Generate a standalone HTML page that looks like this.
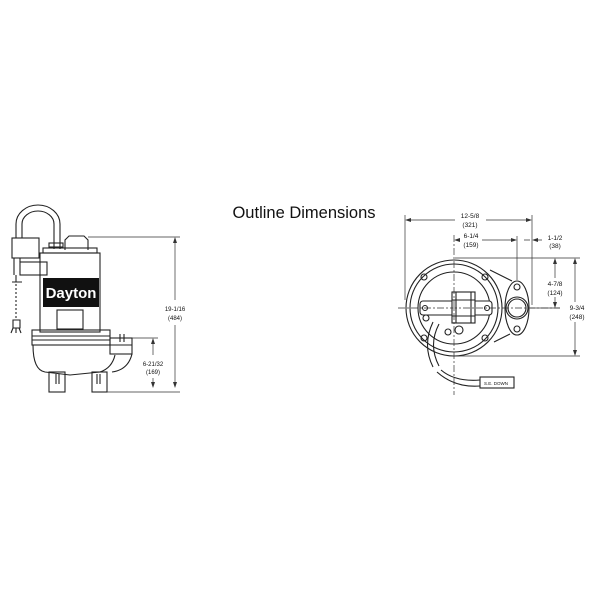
<!DOCTYPE html>
<html><head><meta charset="utf-8"><style>
html,body{margin:0;padding:0;background:#fff;}
svg{display:block;}
text{font-family:"Liberation Sans",Arial,sans-serif;fill:#111;}
</style></head><body>
<svg width="600" height="600" viewBox="0 0 600 600" xmlns="http://www.w3.org/2000/svg">
<rect width="600" height="600" fill="#fff"/>
<text x="304" y="218" font-size="16.5" text-anchor="middle">Outline Dimensions</text>

<!-- LEFT: side view -->
<g fill="none" stroke="#222" stroke-width="1.1">
  <path d="M16 238 V224 A22 19 0 0 1 60 224 V249"/>
  <path d="M22 238 V224 A16 13 0 0 1 54 224 V249"/>
  <rect x="12" y="238" width="27" height="20" fill="#fff"/>
  <rect x="20" y="262" width="27" height="13" fill="#fff"/>
  <path d="M14 258 V275 M20 258 V262"/>
  <path d="M16 275 V282 M12 282 h10"/>
  <path d="M16 284 V320" stroke-dasharray="2,2"/>
  <path d="M13 320 h7 v8 h-7z M13 328 l-2 5 M16 328 v5 M19 328 l2 5"/>
  <path d="M65 250 V240 l4 -4 h15 l4 4 V250"/>
  <rect x="49" y="243" width="14" height="4"/>
  <rect x="43" y="248" width="54" height="5"/>
  <rect x="40" y="253" width="60" height="79"/>
  <rect x="57" y="310" width="26" height="19"/>
  <rect x="32" y="330" width="78" height="15"/>
  <path d="M32 336 h78 M32 340 h78"/>
  <path d="M33 345 Q33 370 45 372 L70 375 L100 372 Q112 368 115 355"/>
  <rect x="110" y="338" width="22" height="16"/>
  <path d="M110 345 h22 M120 334 v8 M124 334 v8"/>
  <path d="M132 354 Q128 370 112 372"/>
  <rect x="49" y="372" width="16" height="20"/>
  <rect x="92" y="372" width="15" height="20"/>
  <path d="M56 374 v10 M59 374 v10 M97 374 v10 M100 374 v10"/>
</g>
<rect x="43" y="278" width="56" height="29" fill="#111"/>
<text x="71" y="298" font-size="15" font-weight="bold" text-anchor="middle" style="fill:#fff">Dayton</text>
<g fill="none" stroke="#333" stroke-width="0.7">
  <path d="M88 237 H180 M107 392 H180 M132 338 H158"/>
  <path d="M175 239 V300 M175 325 V386"/>
  <path d="M153 340 V355 M153 378 V386"/>
</g>
<g fill="#333">
  <path d="M175 237 l-2 6 h4z M175 388 l-2 -6 h4z M153 338 l-2 6 h4z M153 388 l-2 -6 h4z"/>
</g>
<text x="175" y="311" font-size="6" text-anchor="middle">19-1/16</text>
<text x="175" y="320" font-size="6" text-anchor="middle">(484)</text>
<text x="153" y="366" font-size="6" text-anchor="middle">6-21/32</text>
<text x="153" y="374" font-size="6" text-anchor="middle">(169)</text>

<!-- RIGHT: top view -->
<g fill="none" stroke="#222" stroke-width="1.1">
  <circle cx="454" cy="308" r="48"/>
  <circle cx="454" cy="308" r="44"/>
  <circle cx="454" cy="308" r="36"/>
  <path d="M490 270 L512 281 M494 342 L510 334"/>
  <ellipse cx="517" cy="308" rx="12" ry="27" fill="#fff"/>
  <circle cx="517" cy="308" r="11" fill="#fff"/>
  <circle cx="517" cy="308" r="9"/>
  <circle cx="517" cy="287" r="3"/>
  <circle cx="517" cy="329" r="3"/>
  <circle cx="424" cy="277" r="3"/><circle cx="485" cy="277" r="3"/>
  <circle cx="424" cy="338" r="3"/><circle cx="485" cy="338" r="3"/>
  <circle cx="426" cy="318" r="3"/><circle cx="448" cy="332" r="3"/>
  <circle cx="459" cy="330" r="4"/>
  <rect x="420" y="301" width="72" height="14" rx="3" fill="#fff"/>
  <circle cx="425" cy="308" r="2.5"/><circle cx="487" cy="308" r="2.5"/>
  <rect x="452" y="292" width="23" height="31" fill="#fff"/>
  <path d="M456 292 v31 M471 292 v31 M452 300 h23 M452 316 h23"/>
  <path d="M433 322 Q422 345 433 367 M439 324 Q428 345 439 366"/>
  <path d="M441 370 Q455 382 480 380 M437 372 Q455 388 480 386"/>
  <rect x="480" y="377" width="34" height="11" fill="#fff"/>
</g>
<text x="496" y="385" font-size="4.5" text-anchor="middle">S.E. DOWN</text>
<g fill="none" stroke="#333" stroke-width="0.7">
  <path d="M398 308 H560" stroke-dasharray="7,2,2,2"/>
  <path d="M454 235 V395" stroke-dasharray="7,2,2,2"/>
  <path d="M405 215 V300 M532 215 V305 M517 236 V280"/>
  <path d="M407 220 H455 M486 220 H530"/>
  <path d="M456 240 H460 M482 240 H515"/>
  <path d="M534 240 H542 M524 240 H530"/>
  <path d="M455 258 H580 M455 356 H580 M530 308 H560"/>
  <path d="M555 260 V278 M555 297 V306"/>
  <path d="M575 260 V302 M575 322 V354"/>
</g>
<g fill="#333">
  <path d="M405 220 l6 -2 v4z M532 220 l-6 -2 v4z M454 240 l6 -2 v4z M517 240 l-6 -2 v4z M532 240 l6 -2 v4z"/>
  <path d="M555 258 l-2 6 h4z M555 308 l-2 -6 h4z M575 258 l-2 6 h4z M575 356 l-2 -6 h4z"/>
</g>
<text x="470" y="218" font-size="6.5" text-anchor="middle">12-5/8</text>
<text x="470" y="227" font-size="6.5" text-anchor="middle">(321)</text>
<text x="471" y="238" font-size="6.5" text-anchor="middle">6-1/4</text>
<text x="471" y="247" font-size="6.5" text-anchor="middle">(159)</text>
<text x="555" y="240" font-size="6.5" text-anchor="middle">1-1/2</text>
<text x="555" y="248" font-size="6.5" text-anchor="middle">(38)</text>
<text x="555" y="286" font-size="6.5" text-anchor="middle">4-7/8</text>
<text x="555" y="295" font-size="6.5" text-anchor="middle">(124)</text>
<text x="577" y="310" font-size="6.5" text-anchor="middle">9-3/4</text>
<text x="577" y="319" font-size="6.5" text-anchor="middle">(248)</text>
</svg>
</body></html>
